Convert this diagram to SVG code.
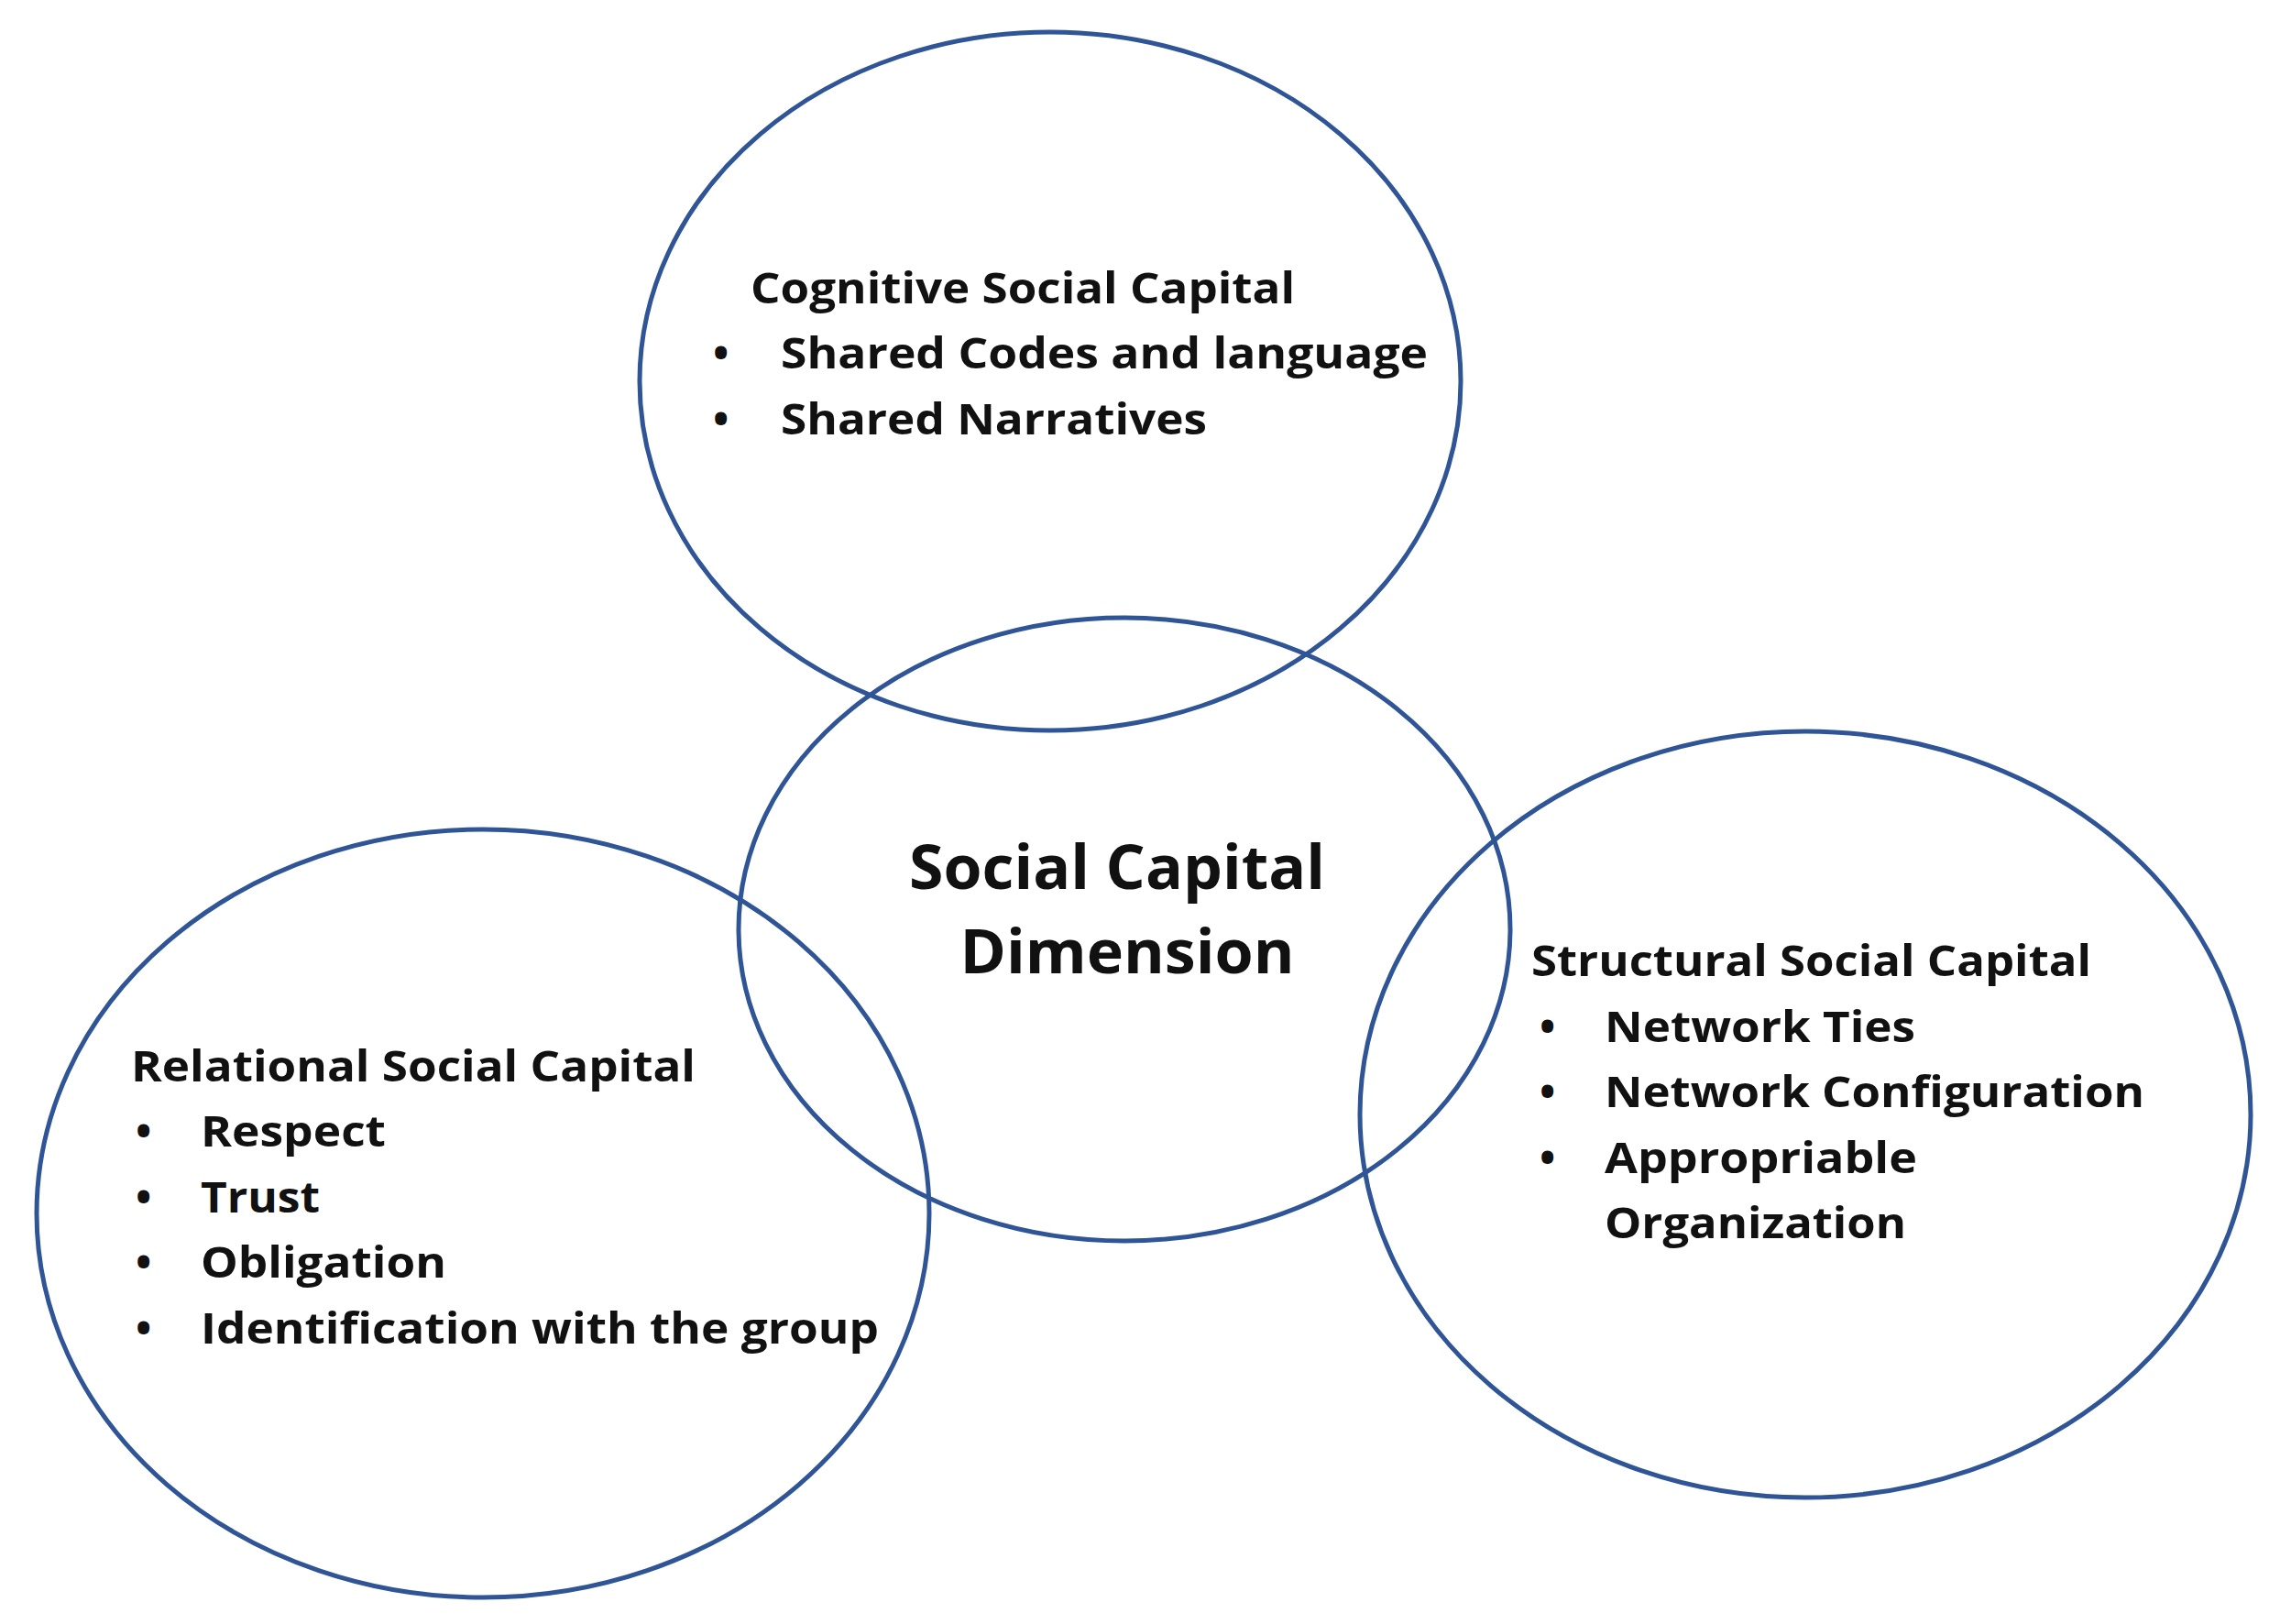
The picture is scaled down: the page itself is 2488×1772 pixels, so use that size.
<svg xmlns="http://www.w3.org/2000/svg" width="2488" height="1772" viewBox="0 0 2488 1772">
<style>
.c{fill:none;stroke:#2F5597;stroke-width:5}
text{font-family:"Open Sans","Liberation Sans",sans-serif;font-weight:bold;fill:#111;font-size:46px}
.big{font-size:66px}
</style>
<rect width="2488" height="1772" fill="#fff"/>
<g id="cognitive">
<ellipse class="c" cx="1146" cy="416" rx="448" ry="381"/>
<text x="819" y="331" textLength="594" lengthAdjust="spacingAndGlyphs">Cognitive Social Capital</text>
<text x="778" y="402">•</text><text x="852" y="402" textLength="706" lengthAdjust="spacingAndGlyphs">Shared Codes and language</text>
<text x="778" y="474">•</text><text x="852" y="474" textLength="465" lengthAdjust="spacingAndGlyphs">Shared Narratives</text>
</g>
<g id="center">
<ellipse class="c" cx="1227" cy="1014" rx="421" ry="340"/>
<text class="big" x="1219" y="970" text-anchor="middle" textLength="454" lengthAdjust="spacingAndGlyphs">Social Capital</text>
<text class="big" x="1230" y="1062" text-anchor="middle" textLength="365" lengthAdjust="spacingAndGlyphs">Dimension</text>
</g>
<g id="relational">
<ellipse class="c" cx="527" cy="1324" rx="487" ry="419"/>
<text x="143" y="1180" textLength="616" lengthAdjust="spacingAndGlyphs">Relational Social Capital</text>
<text x="148" y="1251">•</text><text x="219" y="1251" textLength="202" lengthAdjust="spacingAndGlyphs">Respect</text>
<text x="148" y="1323">•</text><text x="219" y="1323" textLength="130" lengthAdjust="spacingAndGlyphs">Trust</text>
<text x="148" y="1394">•</text><text x="219" y="1394" textLength="268" lengthAdjust="spacingAndGlyphs">Obligation</text>
<text x="148" y="1466">•</text><text x="219" y="1466" textLength="740" lengthAdjust="spacingAndGlyphs">Identification with the group</text>
</g>
<g id="structural">
<ellipse class="c" cx="1970" cy="1216" rx="486" ry="418"/>
<text x="1671" y="1065" textLength="611" lengthAdjust="spacingAndGlyphs">Structural Social Capital</text>
<text x="1680" y="1137">•</text><text x="1751" y="1137" textLength="339" lengthAdjust="spacingAndGlyphs">Network Ties</text>
<text x="1680" y="1208">•</text><text x="1751" y="1208" textLength="589" lengthAdjust="spacingAndGlyphs">Network Configuration</text>
<text x="1680" y="1280">•</text><text x="1751" y="1280" textLength="341" lengthAdjust="spacingAndGlyphs">Appropriable</text>
<text x="1751" y="1351" textLength="329" lengthAdjust="spacingAndGlyphs">Organization</text>
</g>
<g id="connectors"/>
</svg>
